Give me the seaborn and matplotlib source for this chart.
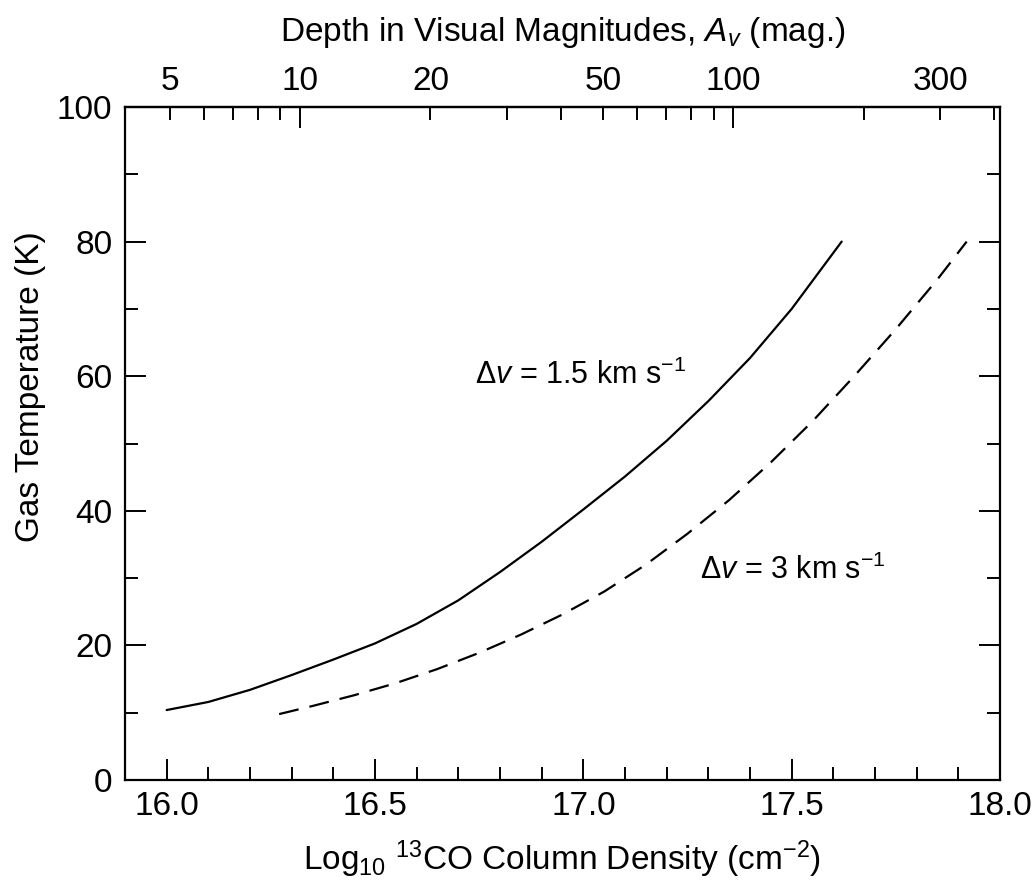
import numpy as np
import pandas as pd
import matplotlib
matplotlib.use("Agg")
import matplotlib.pyplot as plt
import seaborn as sns

# valori (curva continua, dv = 1.5 km/s)
logN_15 = [16.00, 16.10, 16.20, 16.30, 16.40, 16.50, 16.60, 16.70, 16.80, 16.90,
           17.00, 17.10, 17.20, 17.30, 17.40, 17.50, 17.62]
temp_15 = [10.4, 11.6, 13.4, 15.6, 17.9, 20.3, 23.2, 26.7, 30.9, 35.4,
           40.2, 45.1, 50.4, 56.3, 62.7, 70.0, 80.0]
# curva tratteggiata, dv = 3 km/s
logN_3 = [16.27, 16.35, 16.45, 16.55, 16.65, 16.75, 16.85, 16.95, 17.05, 17.15,
          17.25, 17.35, 17.45, 17.55, 17.65, 17.75, 17.85, 17.92]
temp_3 = [9.8, 11.0, 12.6, 14.4, 16.5, 18.9, 21.6, 24.6, 28.0, 32.0,
          36.6, 41.6, 47.2, 53.3, 60.0, 67.0, 74.4, 80.0]

av_major = [10, 100]
av_minor = [5, 6, 7, 8, 9, 20, 30, 40, 50, 60, 70, 80, 90, 200, 300, 400]
av_minor_labels = ['5', '', '', '', '', '20', '', '', '50', '', '', '', '', '', '300', '']

# relazione approssimata tra N(13CO) e Av
A0, B0 = 15.28, 1.04

def n_to_av(x):
    return 10 ** ((np.asarray(x) - A0) / B0)

def av_to_n(a):
    return A0 + B0 * np.log10(np.clip(np.asarray(a, dtype=float), 1e-6, None))

sns.set_theme(style="ticks")
plt.rcParams['font.family'] = ['Liberation Sans', 'DejaVu Sans']
plt.rcParams['mathtext.fontset'] = 'custom'
plt.rcParams['mathtext.rm'] = 'Liberation Sans'
plt.rcParams['mathtext.it'] = 'Liberation Sans:italic'
plt.rcParams['mathtext.bf'] = 'Liberation Sans:bold'
for k in ['text.color', 'axes.labelcolor', 'xtick.color', 'ytick.color', 'axes.edgecolor']:
    plt.rcParams[k] = 'black'

FS = 24
FS_ANN = 22

df1 = pd.DataFrame({'logN': logN_15, 'T': temp_15})
df2 = pd.DataFrame({'logN': logN_3, 'T': temp_3})

fig = plt.figure(figsize=(10.32, 8.82), dpi=100)
ax = fig.add_axes([0.1211, 0.1156, 0.8479, 0.7631])

sns.lineplot(data=df1, x='logN', y='T', ax=ax, color='black', lw=1.6, sort=False)
sns.lineplot(data=df2, x='logN', y='T', ax=ax, color='black', lw=1.6, sort=False)
ax.lines[-1].set_dashes([9, 5])

ax.set_xlim(15.9, 18.0)
ax.set_ylim(0, 100)
ax.set_xticks(np.arange(16.0, 18.01, 0.5))
ax.set_xticklabels(['16.0', '16.5', '17.0', '17.5', '18.0'])
ax.set_xticks(np.arange(16.0, 18.0, 0.1), minor=True)
ax.set_yticks(np.arange(0, 101, 20))
ax.set_yticks(np.arange(10, 100, 20), minor=True)

ax.tick_params(axis='both', which='major', direction='in', length=15, width=1.4,
               labelsize=FS)
ax.tick_params(axis='both', which='minor', direction='in', length=9.5, width=1.4)
ax.tick_params(axis='x', which='major', pad=8)
ax.tick_params(axis='y', which='major', pad=9)
ax.tick_params(axis='y', which='both', right=True)
ax.tick_params(axis='x', which='both', top=False)

for s in ax.spines.values():
    s.set_visible(True)
    s.set_linewidth(1.6)

ax.set_xlabel('Log$_{10}$ $^{13}$CO Column Density (cm$^{-2}$)', fontsize=FS, labelpad=12)
ax.set_ylabel('Gas Temperature (K)', fontsize=FS)
ax.yaxis.set_label_coords(-0.09, 0.585)

sec = ax.secondary_xaxis('top', functions=(n_to_av, av_to_n))
sec.set_xticks(av_major)
sec.set_xticklabels(['10', '100'])
sec.set_xticks(av_minor, labels=av_minor_labels, minor=True)
sec.tick_params(axis='x', which='major', direction='in', length=15, width=1.4,
                labelsize=FS, pad=7)
sec.tick_params(axis='x', which='minor', direction='in', length=9.5, width=1.4,
                labelsize=FS, pad=7)
sec.spines['top'].set_linewidth(1.6)
sec.set_xlabel('Depth in Visual Magnitudes, $A_v$ (mag.)', fontsize=FS, labelpad=18)

ax.text(16.74, 60.1, '$\\Delta v$ = 1.5 km s$^{-1}$', fontsize=FS_ANN, va='center', ha='left')
ax.text(17.28, 31.2, '$\\Delta v$ = 3 km s$^{-1}$', fontsize=FS_ANN, va='center', ha='left')

fig.savefig('out.png', dpi=100)
